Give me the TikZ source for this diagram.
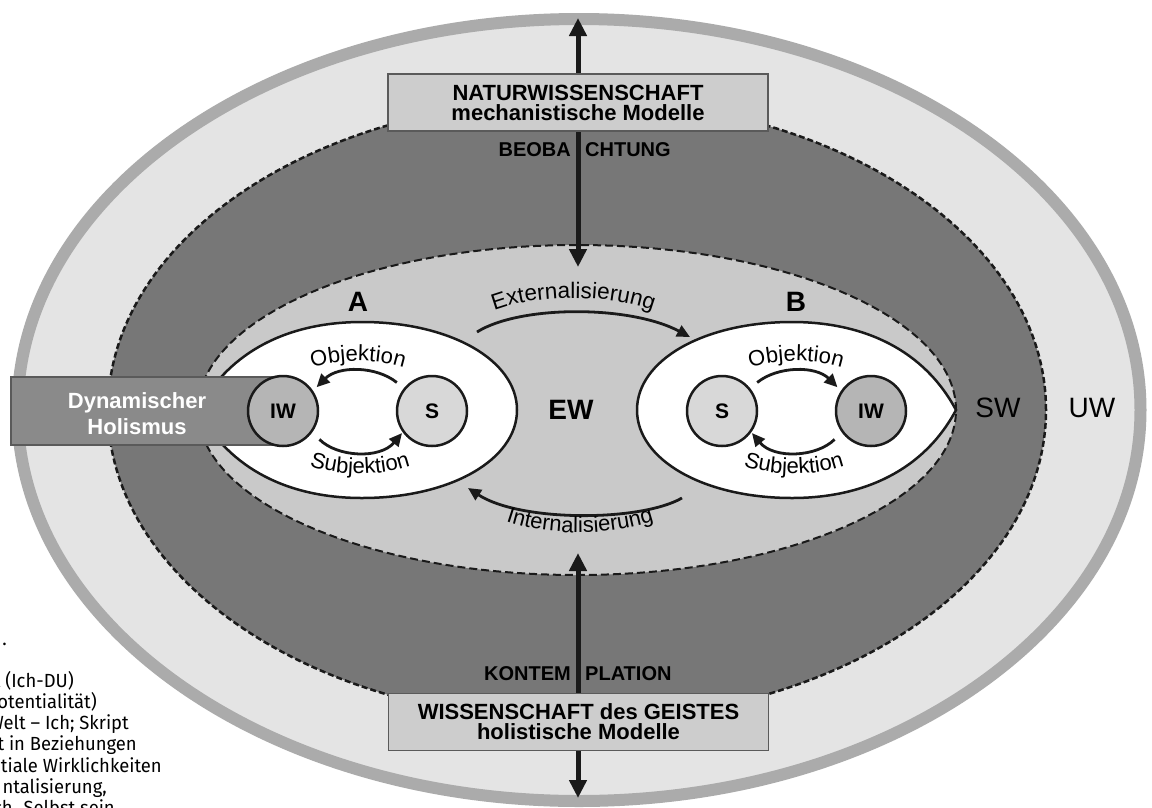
\documentclass[tikz,border=0pt]{standalone}
\usepackage{fontspec}
\setmainfont{Liberation Sans}
\newfontfamily\firafont[FakeStretch=0.97]{Fira Sans}
\usetikzlibrary{arrows.meta,decorations.text}
\definecolor{outerborder}{HTML}{ABABAB}
\definecolor{outerfill}{HTML}{E4E4E4}
\definecolor{swfill}{HTML}{777777}
\definecolor{ewfill}{HTML}{C9C9C9}
\definecolor{boxfill}{HTML}{CDCDCD}
\definecolor{boxline}{HTML}{5A5A5A}
\definecolor{dynfill}{HTML}{8A8A8A}
\definecolor{iwfill}{HTML}{B5B5B5}
\definecolor{sfill}{HTML}{D8D8D8}
\definecolor{ink}{HTML}{1A1A1A}
\begin{document}
\begin{tikzpicture}[x=1pt,y=1pt,
  frag/.style={font=\firafont\fontsize{19}{21}\selectfont, anchor=base east, inner sep=0pt},
  tbox/.style={draw=boxline, line width=1.5pt, fill=boxfill, minimum width=380pt, minimum height=57pt,
               align=center, inner sep=0pt, font=\fontsize{22}{20}\selectfont\bfseries},
  circ/.style={circle, draw=ink, line width=2.5pt, minimum size=70pt, inner sep=0pt,
               font=\fontsize{21}{21}\selectfont\bfseries},
  biglabel/.style={font=\fontsize{28}{28}\selectfont\bfseries, inner sep=0pt},
  reglabel/.style={font=\fontsize{28}{28}\selectfont, inner sep=0pt},
  caps/.style={font=\fontsize{20}{20}\selectfont\bfseries, inner sep=0pt},
  arr/.style={draw=ink, line width=2.8pt, -{Triangle[length=13pt,width=12pt]}},
  varr/.style={draw=ink, line width=5pt, {Triangle[length=18pt,width=17pt]}-{Triangle[length=18pt,width=17pt]}},
  dashline/.style={draw=ink, line width=2.5pt, dash pattern=on 6pt off 3pt},
  curvtext/.style={decorate, decoration={text along path, text align=center, text={#1}}}
]
\useasboundingbox (0,0) rectangle (1152,-807);
\clip (0,0) rectangle (1152,-807);
\fill[white] (0,0) rectangle (1152,-807);

% text fragments at the left edge
\node[frag] (f0) at (7,-645) {.};
\node[frag] (f1) at (74,-687) {t (Ich-DU)};
\node[frag] (f2) at (97,-708) {otentialität)};
\node[frag] (f3) at (129,-729) {Welt – Ich; Skript};
\node[frag] (f4) at (137,-750) {it in Beziehungen};
\node[frag] (f5) at (162,-772) {tiale Wirklichkeiten};
\node[frag] (f6) at (107,-793) {ntalisierung,};
\node[frag] (f7) at (115,-814) {ch. Selbst sein};

% nested worlds
\draw[line width=12pt, draw=outerborder, fill=outerfill] (579,-410) ellipse [x radius=561.5pt, y radius=391pt];
\draw[dashline, fill=swfill] (577,-410) ellipse [x radius=469pt, y radius=311pt];
\draw[dashline, line width=2pt, dash pattern=on 8pt off 4pt, fill=ewfill] (577,-410) ellipse [x radius=379pt, y radius=165pt];

% lenses A and B
\draw[draw=ink, line width=2.5pt, fill=white]
  (198,-410) .. controls (230,-350) and (290,-322) .. (362,-322)
  .. controls (450,-322) and (517,-360) .. (517,-410)
  .. controls (517,-460) and (450,-498) .. (362,-498)
  .. controls (290,-498) and (230,-470) .. (198,-410) -- cycle;
\draw[draw=ink, line width=2.5pt, fill=white]
  (956,-410) .. controls (924,-350) and (864,-322) .. (792,-322)
  .. controls (704,-322) and (637,-360) .. (637,-410)
  .. controls (637,-460) and (704,-498) .. (792,-498)
  .. controls (864,-498) and (924,-470) .. (956,-410) -- cycle;

% vertical arrows
\coordinate (topT) at (578,-18);
\coordinate (topB) at (578,-267);
\coordinate (botT) at (578,-553);
\coordinate (botB) at (578,-798);
\draw[varr] (topT) -- (topB);
\draw[varr] (botT) -- (botB);

% science boxes
\node[tbox] (nat) at (578,-102.5) {NATURWISSENSCHAFT\\mechanistische Modelle};
\node[tbox] (geist) at (578.5,-722) {WISSENSCHAFT des GEISTES\\holistische Modelle};
\node[caps, anchor=base east] (beoA) at (571,-156) {BEOBA};
\node[caps, anchor=base west] (beoB) at (585,-156) {CHTUNG};
\node[caps, anchor=base east] (konA) at (571,-680) {KONTEM};
\node[caps, anchor=base west] (konB) at (585,-680) {PLATION};

% Dynamischer Holismus
\node[draw=boxline, line width=1.5pt, fill=dynfill, minimum width=272pt, minimum height=68pt, inner sep=0pt]
  (dynbox) at (147,-411) {};
\node[text=white, align=center, inner sep=0pt, font=\fontsize{22}{26}\selectfont\bfseries]
  (dyn) at (137,-414) {Dynamischer\\Holismus};

% circles
\node[circ, fill=iwfill] (IWA) at (283,-411) {IW};
\node[circ, fill=sfill] (SA) at (432,-411) {S};
\node[circ, fill=sfill] (SB) at (722,-411) {S};
\node[circ, fill=iwfill] (IWB) at (871,-411) {IW};

% Objektion / Subjektion arrows
\draw[arr, shorten <=9pt, shorten >=5pt] (SA.141) to[out=141,in=45] (IWA.34);
\draw[arr, shorten <=10pt, shorten >=1pt] (IWA.-36) to[out=-45,in=-130] (SA.-144);
\draw[arr, shorten <=9pt, shorten >=5pt] (SB.39) to[out=39,in=135] (IWB.146);
\draw[arr, shorten <=10pt, shorten >=1pt] (IWB.216) to[out=225,in=-50] (SB.-36);

% Externalisierung / Internalisierung arrows
\coordinate (extS) at (477,-332);
\coordinate (extE) at (690,-337);
\coordinate (intS) at (682,-498);
\coordinate (intE) at (468,-488);
\draw[arr] (extS) .. controls (520,-305) and (630,-305) .. (extE);
\draw[arr] (intS) .. controls (640,-522) and (520,-522) .. (intE);

% curved labels
\path[curvtext={|\fontsize{22.5}{22}\selectfont|Externalisierung}]
  (482,-316) .. controls (527,-292) and (618,-292) .. (665,-316);
\path[curvtext={|\fontsize{22}{22}\selectfont|Internalisierung}]
  (492,-516) .. controls (540,-538) and (615,-538) .. (668,-516);
\path[curvtext={|\fontsize{22}{22}\selectfont|Objektion}]
  (300,-372) .. controls (332,-357) and (384,-357) .. (416,-372);
\path[curvtext={|\fontsize{22}{22}\selectfont|Subjektion}]
  (298,-461) .. controls (332,-478) and (388,-478) .. (422,-461);
\path[curvtext={|\fontsize{22}{22}\selectfont|Objektion}]
  (738,-372) .. controls (770,-357) and (822,-357) .. (854,-372);
\path[curvtext={|\fontsize{22}{22}\selectfont|Subjektion}]
  (732,-461) .. controls (766,-478) and (822,-478) .. (856,-461);

% world labels
\node[biglabel] (A) at (358,-302) {A};
\node[biglabel] (B) at (796,-302) {B};
\node[biglabel] (EW) at (571,-410) {EW};
\node[reglabel] (SW) at (998,-408) {SW};
\node[reglabel] (UW) at (1092,-408) {UW};
\end{tikzpicture}
\end{document}
